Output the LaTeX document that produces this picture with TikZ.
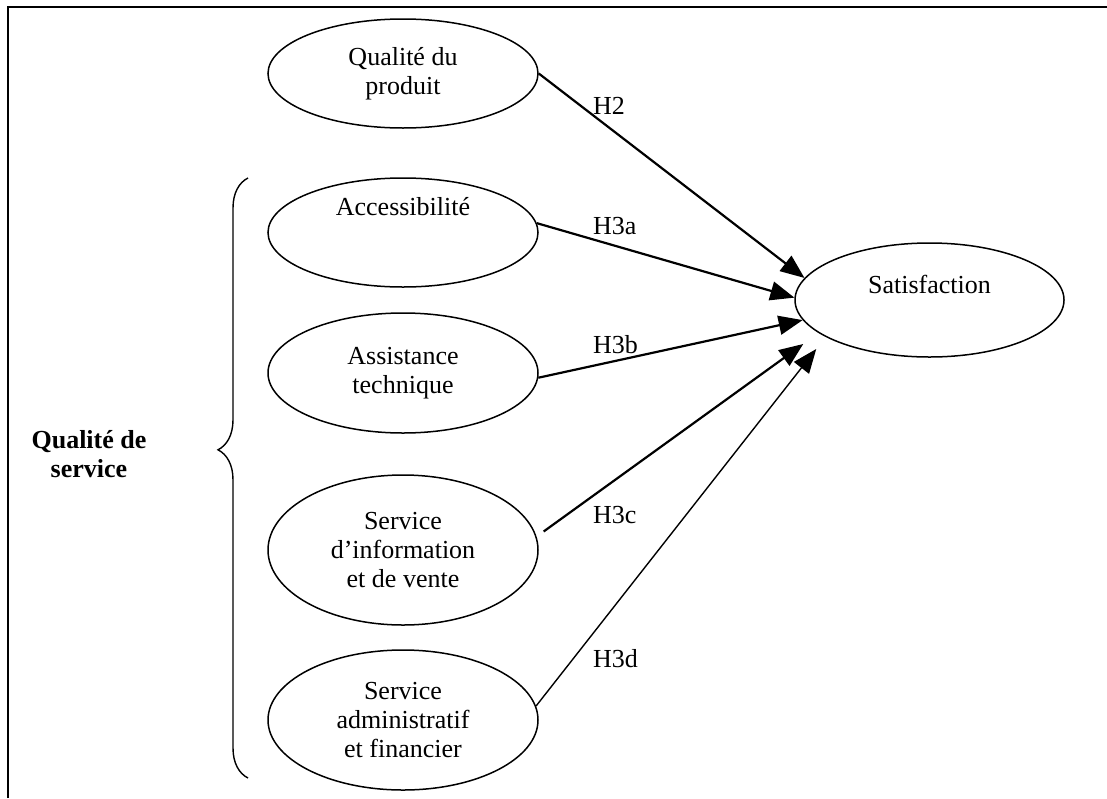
\documentclass[tikz,border=0pt]{standalone}
\usepackage{fontspec}
\setmainfont{Liberation Serif}
\usetikzlibrary{arrows.meta}
\usetikzlibrary{shapes.geometric}
\usetikzlibrary{decorations.pathreplacing}

\begin{document}
\begin{tikzpicture}[x=1pt, y=-1pt, font=\fontsize{26}{29}\selectfont,
  oval/.style={draw, ellipse, line width=1.5pt, minimum width=270pt, inner sep=0pt, align=center},
  arr/.style={line width=2.2pt, -{Triangle[length=24pt,width=19pt]}},
  lbl/.style={anchor=base west, inner sep=0pt}]
\useasboundingbox (0,0) rectangle (1107,798);

\draw[line width=2pt] (8,798) -- (8,7) -- (1107,7);

\node[oval, minimum height=109pt] (qual) at (403,73.5) {Qualité du\\produit};
\node[oval, minimum height=109pt, label={[yshift=26pt]center:Accessibilité}] (acc) at (403,232.5) {};
\node[oval, minimum height=120pt] (ast) at (403,373) {Assistance\\technique};
\node[oval, minimum height=150pt] (info) at (403,550) {Service\\d’information\\et de vente};
\node[oval, minimum height=140pt] (adm) at (403,720) {Service\\administratif\\et financier};
\node[oval, minimum width=269pt, minimum height=114pt, label={[yshift=16pt]center:Satisfaction}] (sat) at (929.5,300) {};

\node[font=\fontsize{26}{29}\selectfont\bfseries, align=center] (qs) at (89,454) {Qualité de\\service};
\draw[line width=1.4pt, decorate, decoration={brace, amplitude=30pt, aspect=0.547}] (248,778) -- (248,178);

\draw[arr] (qual.east) -- (sat.170);
\draw[arr] (acc.4) -- (sat.179);
\draw[arr] (ast.-2) -- (sat.189);
\draw[arr] ([xshift=9pt]info.8) -- ([shift={(9,44)}]sat.west);
\draw[arr, line width=1.4pt] (adm.6) -- ([shift={(22,49)}]sat.west);

\node[lbl] (h2) at (593,114) {H2};
\node[lbl] (h3a) at (593,234) {H3a};
\node[lbl] (h3b) at (593,353) {H3b};
\node[lbl] (h3c) at (593,523) {H3c};
\node[lbl] (h3d) at (593,667) {H3d};

\end{tikzpicture}
\end{document}
